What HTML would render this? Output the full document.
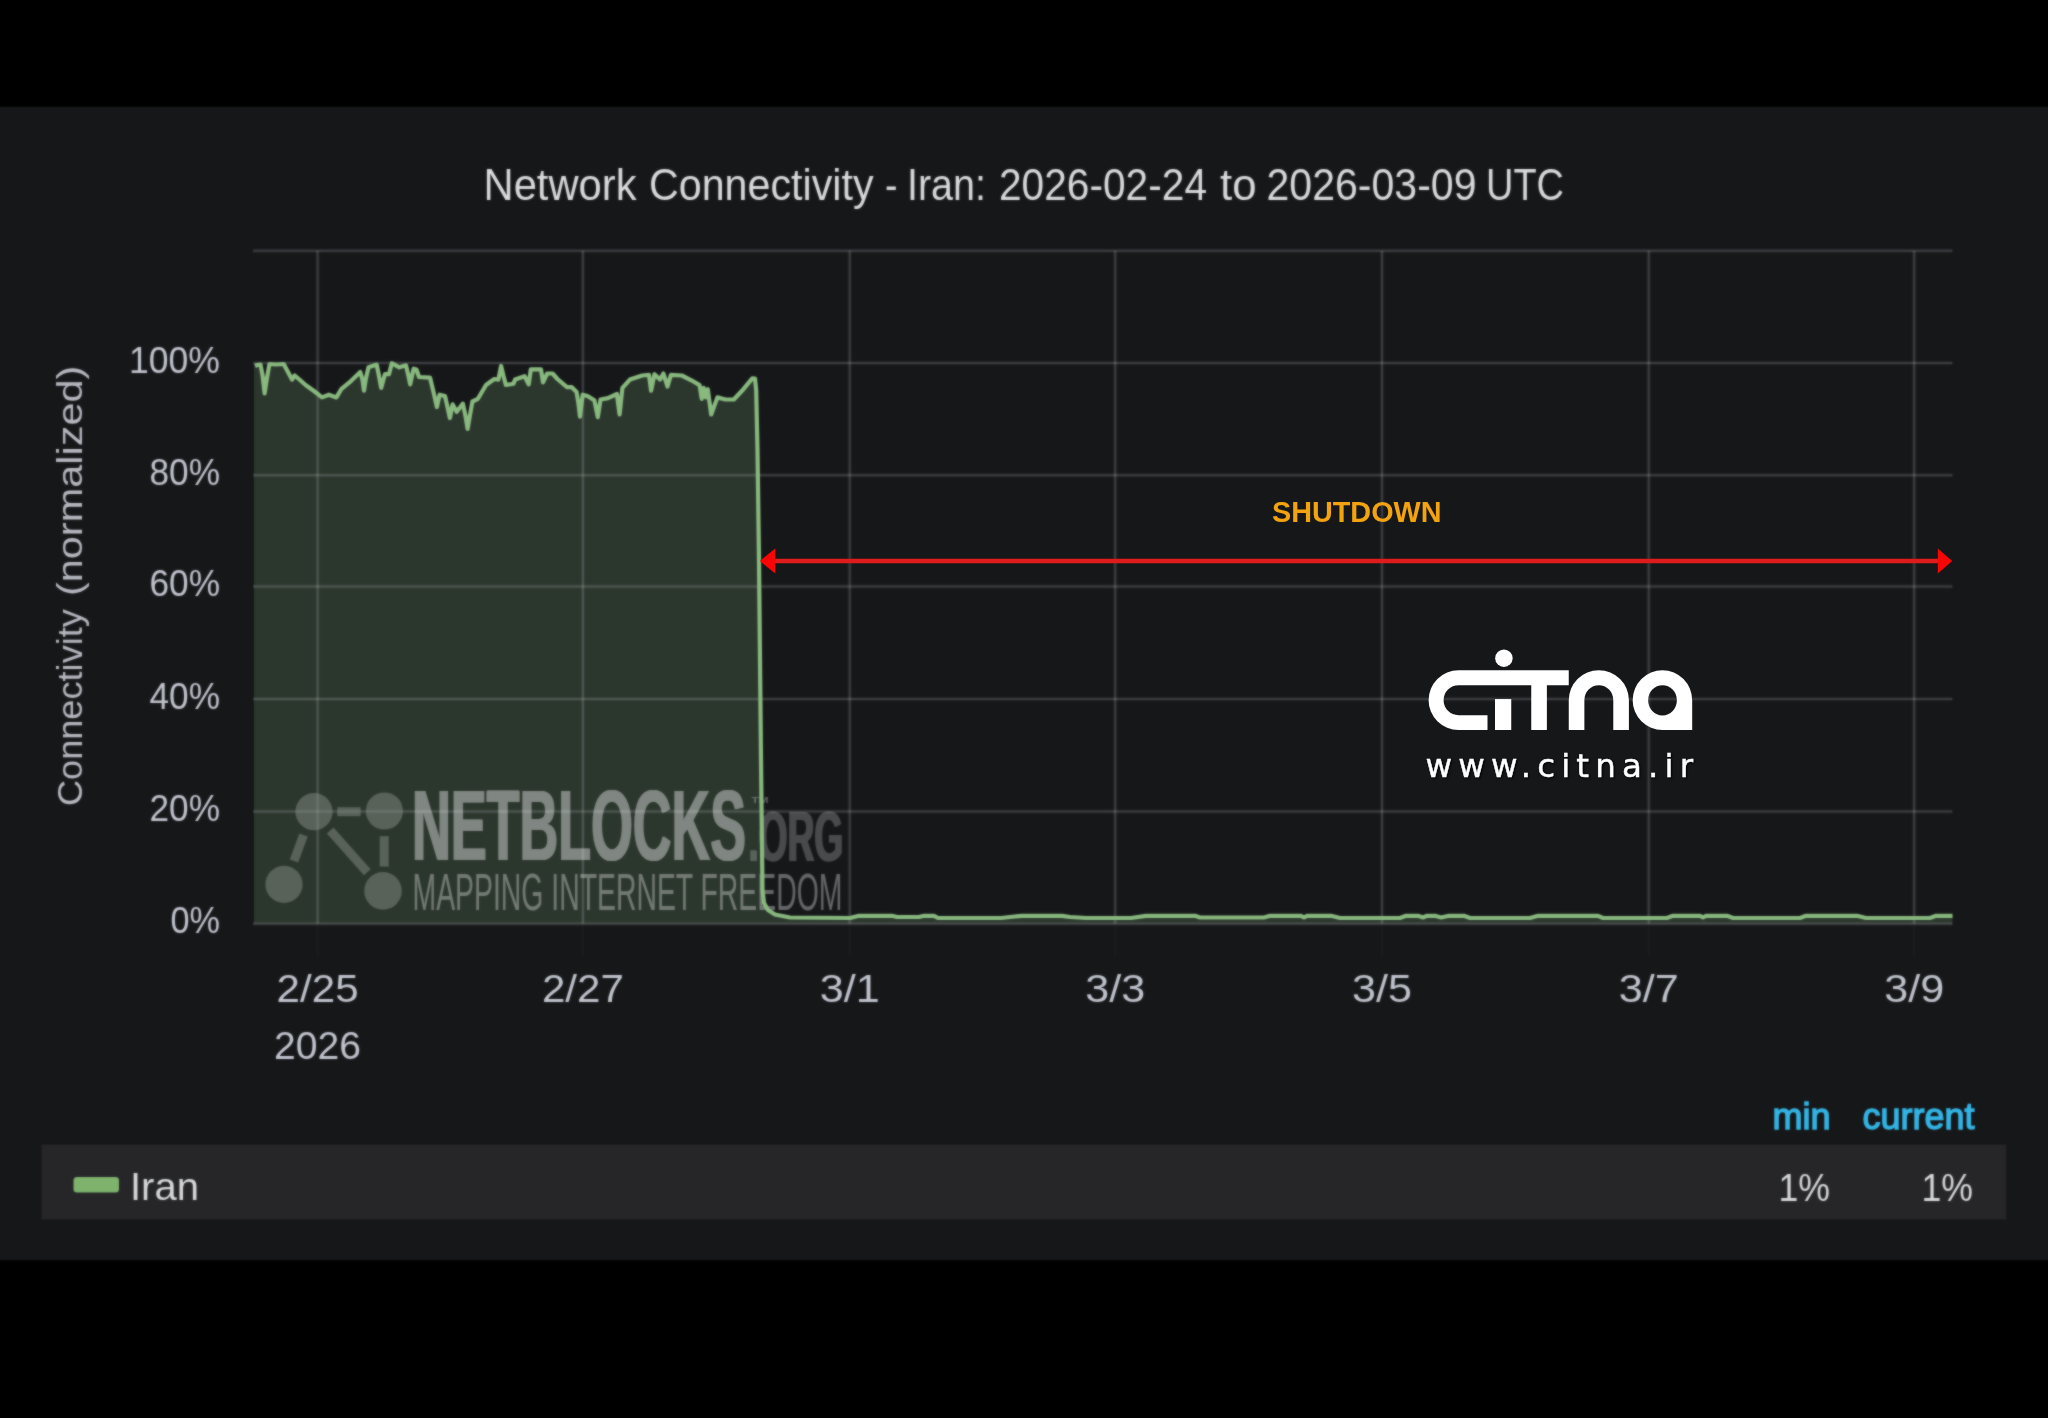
<!DOCTYPE html>
<html lang="en"><head><meta charset="utf-8"><title>Network Connectivity - Iran</title>
<style>
html,body{margin:0;padding:0;background:#000;}
body{width:2048px;height:1418px;overflow:hidden;font-family:"Liberation Sans", Arial, sans-serif;}
svg{display:block;}
</style></head><body>
<svg width="2048" height="1418" viewBox="0 0 2048 1418">
<defs><filter id="soft" x="-20" y="-20" width="2088" height="1458" filterUnits="userSpaceOnUse" color-interpolation-filters="sRGB"><feGaussianBlur in="SourceGraphic" stdDeviation="0.8" result="b"/><feComposite in="SourceGraphic" in2="b" operator="arithmetic" k1="0" k2="0.4" k3="0.6" k4="0"/></filter><filter id="soft2" x="700" y="480" width="1300" height="120" filterUnits="userSpaceOnUse" color-interpolation-filters="sRGB"><feGaussianBlur stdDeviation="0.5"/></filter><filter id="soft3" x="1380" y="620" width="360" height="190" filterUnits="userSpaceOnUse" color-interpolation-filters="sRGB"><feGaussianBlur stdDeviation="0.3"/></filter></defs>
<g filter="url(#soft)">
<rect x="-20" y="-20" width="2088" height="1458" fill="#000"/>
<rect x="-20" y="106.85" width="2088" height="1153.35" fill="#161719"/>
<!-- legend row -->
<rect x="41.7" y="1144.6" width="1964.5" height="74.8" fill="#262628"/>
<rect x="73.5" y="1177" width="45.5" height="15.5" rx="3.5" fill="#7eb26d"/>
<!-- area fill -->
<path d="M255.0,366.0 L257.0,365.0 L260.5,364.6 L262.5,375.0 L264.6,393.3 L267.0,378.0 L269.4,364.0 L276.0,364.5 L283.7,364.0 L288.0,372.0 L292.0,379.6 L294.7,375.5 L300.0,380.0 L305.6,385.0 L314.0,391.0 L322.0,397.4 L328.9,394.7 L336.4,397.4 L341.2,389.2 L349.4,382.4 L360.3,372.0 L362.5,380.0 L364.0,390.6 L366.0,378.0 L368.5,367.3 L376.7,364.6 L379.0,376.0 L381.2,387.9 L384.9,374.2 L389.0,374.2 L391.8,363.2 L399.3,367.3 L406.0,365.3 L408.0,374.0 L410.2,384.4 L412.0,376.0 L413.6,368.7 L416.5,369.5 L419.0,377.0 L430.0,377.6 L433.5,392.0 L436.9,407.0 L439.6,394.7 L445.0,396.0 L447.5,407.0 L449.9,418.0 L452.6,404.3 L456.7,411.8 L462.9,403.6 L465.5,416.0 L467.6,428.9 L470.0,415.0 L472.4,401.5 L477.9,398.8 L486.0,385.0 L494.3,379.0 L498.4,379.6 L501.1,366.0 L503.5,376.0 L505.9,385.0 L513.5,383.7 L515.0,379.6 L524.6,376.2 L528.7,384.4 L530.8,369.4 L541.0,369.4 L543.0,382.4 L547.2,373.5 L552.6,373.5 L557.4,379.0 L567.0,387.2 L571.8,387.2 L576.6,392.0 L578.5,404.0 L580.0,416.6 L582.7,394.7 L587.5,396.0 L594.3,400.2 L597.8,417.2 L600.5,399.5 L608.0,398.1 L616.9,394.0 L619.6,414.5 L622.4,387.9 L629.9,379.6 L642.2,375.5 L649.0,374.9 L651.1,390.6 L654.5,374.2 L660.0,379.6 L663.4,373.5 L667.5,386.5 L670.9,374.9 L681.8,375.5 L691.4,380.3 L699.6,385.1 L701.7,398.8 L703.7,387.9 L705.8,397.4 L707.8,389.2 L711.2,414.5 L717.4,397.4 L725.6,399.5 L733.8,399.5 L743.4,389.2 L752.3,378.3 L755.0,378.5 L756.2,390.0 L757.5,450.0 L759.0,560.0 L761.0,760.0 L762.5,890.0 L764.0,903.0 L768.0,910.0 L775.0,914.5 L790.0,917.5 L850.0,918.0 L859.0,915.8 L892.0,915.8 L897.0,917.0 L919.0,917.0 L924.0,915.8 L934.0,915.8 L938.0,918.0 L1001.0,918.0 L1010.0,917.0 L1022.0,915.8 L1062.0,915.8 L1070.0,917.0 L1086.0,918.0 L1131.0,918.0 L1146.0,915.8 L1195.0,915.8 L1200.0,917.5 L1264.0,917.5 L1270.0,915.8 L1301.0,915.8 L1304.0,917.5 L1307.0,915.8 L1331.0,915.8 L1340.0,918.0 L1400.0,918.0 L1406.0,915.8 L1418.0,915.8 L1423.0,917.5 L1427.0,915.8 L1435.0,915.8 L1441.0,917.5 L1449.0,915.8 L1464.0,915.8 L1470.0,918.0 L1530.0,918.0 L1538.0,915.8 L1598.0,915.8 L1603.0,918.0 L1667.0,918.0 L1673.0,915.8 L1700.0,915.8 L1703.0,917.3 L1706.0,915.8 L1727.0,915.8 L1733.0,918.0 L1800.0,918.0 L1806.0,915.8 L1857.0,915.8 L1866.0,918.0 L1930.0,918.0 L1936.0,915.8 L1952.5,915.8 L1952.5,923.7 L254,923.7 L254,366 Z" fill="#84b27d" fill-opacity="0.2" stroke="none"/>
<!-- grid -->
<g stroke="rgba(210,212,216,0.05)" stroke-width="4.4" fill="none">
<line x1="253" x2="1952.5" y1="250.7" y2="250.7"/>
<line x1="253" x2="1952.5" y1="363.1" y2="363.1"/>
<line x1="253" x2="1952.5" y1="475.3" y2="475.3"/>
<line x1="253" x2="1952.5" y1="586.5" y2="586.5"/>
<line x1="253" x2="1952.5" y1="699.0" y2="699.0"/>
<line x1="253" x2="1952.5" y1="811.5" y2="811.5"/>
<line x1="253" x2="1952.5" y1="923.7" y2="923.7"/>
<line x1="317.6" x2="317.6" y1="250.7" y2="923.7"/>
<line x1="582.9" x2="582.9" y1="250.7" y2="923.7"/>
<line x1="849.7" x2="849.7" y1="250.7" y2="923.7"/>
<line x1="1115.2" x2="1115.2" y1="250.7" y2="923.7"/>
<line x1="1382.0" x2="1382.0" y1="250.7" y2="923.7"/>
<line x1="1648.7" x2="1648.7" y1="250.7" y2="923.7"/>
<line x1="1914.2" x2="1914.2" y1="250.7" y2="923.7"/>
</g>
<g stroke="rgba(210,212,216,0.165)" stroke-width="2" fill="none">
<line x1="253" x2="1952.5" y1="250.7" y2="250.7"/>
<line x1="253" x2="1952.5" y1="363.1" y2="363.1"/>
<line x1="253" x2="1952.5" y1="475.3" y2="475.3"/>
<line x1="253" x2="1952.5" y1="586.5" y2="586.5"/>
<line x1="253" x2="1952.5" y1="699.0" y2="699.0"/>
<line x1="253" x2="1952.5" y1="811.5" y2="811.5"/>
<line x1="253" x2="1952.5" y1="923.7" y2="923.7"/>
<line x1="317.6" x2="317.6" y1="250.7" y2="923.7"/>
<line x1="582.9" x2="582.9" y1="250.7" y2="923.7"/>
<line x1="849.7" x2="849.7" y1="250.7" y2="923.7"/>
<line x1="1115.2" x2="1115.2" y1="250.7" y2="923.7"/>
<line x1="1382.0" x2="1382.0" y1="250.7" y2="923.7"/>
<line x1="1648.7" x2="1648.7" y1="250.7" y2="923.7"/>
<line x1="1914.2" x2="1914.2" y1="250.7" y2="923.7"/>
</g>
<g stroke="rgba(210,212,216,0.035)" stroke-width="2" fill="none">
<line x1="317.6" x2="317.6" y1="925" y2="955"/>
<line x1="582.9" x2="582.9" y1="925" y2="955"/>
<line x1="849.7" x2="849.7" y1="925" y2="955"/>
<line x1="1115.2" x2="1115.2" y1="925" y2="955"/>
<line x1="1382.0" x2="1382.0" y1="925" y2="955"/>
<line x1="1648.7" x2="1648.7" y1="925" y2="955"/>
<line x1="1914.2" x2="1914.2" y1="925" y2="955"/>
</g>

<g id="netblocks">
  <g fill="#8d968d" fill-opacity="0.46" stroke="none">
    <circle cx="314" cy="811.7" r="18.6"/><circle cx="384.4" cy="811" r="18.6"/>
    <circle cx="284" cy="884.4" r="18.6"/><circle cx="383" cy="890.9" r="18.8"/>
  </g>
  <g stroke="#8d968d" stroke-opacity="0.46" stroke-width="9" fill="none">
    <line x1="337.3" y1="811.7" x2="360.6" y2="811.7"/>
    <line x1="303.5" y1="835" x2="294" y2="861"/>
    <line x1="330.2" y1="830.6" x2="367.3" y2="872.3"/>
    <line x1="384.2" y1="836.2" x2="384.2" y2="866.6"/>
  </g>
  <g opacity="0.40" fill="#ffffff" font-weight="bold" font-family='"Liberation Sans", Arial, sans-serif' font-size="99.5">
    <g transform="translate(412.2,860.3) scale(0.5393,1)"><text x="-1.6" y="0">NETBLOCKS</text><text x="1.6" y="0">NETBLOCKS</text><text x="0" y="0">NETBLOCKS</text></g>
  </g>
  <g opacity="0.22" fill="#ffffff" font-weight="bold" font-family='"Liberation Sans", Arial, sans-serif' font-size="70">
    <g transform="translate(748.5,860.5) scale(0.5295,1)"><text x="-1.5" y="0">.ORG</text><text x="1.5" y="0">.ORG</text></g>
  </g>
  <text x="751.5" y="802.5" font-size="9" font-weight="bold" font-family='"Liberation Sans", Arial, sans-serif' fill="#ffffff" fill-opacity="0.3" textLength="17" lengthAdjust="spacingAndGlyphs">TM</text>
  <g transform="translate(412.5,909.6) scale(0.546,1)"><text x="0" y="0" font-size="52" font-family='"Liberation Sans", Arial, sans-serif' fill="#ffffff" fill-opacity="0.34">MAPPING INTERNET FREEDOM</text></g>
</g>
<!-- series line -->
<path d="M255.0,366.0 L257.0,365.0 L260.5,364.6 L262.5,375.0 L264.6,393.3 L267.0,378.0 L269.4,364.0 L276.0,364.5 L283.7,364.0 L288.0,372.0 L292.0,379.6 L294.7,375.5 L300.0,380.0 L305.6,385.0 L314.0,391.0 L322.0,397.4 L328.9,394.7 L336.4,397.4 L341.2,389.2 L349.4,382.4 L360.3,372.0 L362.5,380.0 L364.0,390.6 L366.0,378.0 L368.5,367.3 L376.7,364.6 L379.0,376.0 L381.2,387.9 L384.9,374.2 L389.0,374.2 L391.8,363.2 L399.3,367.3 L406.0,365.3 L408.0,374.0 L410.2,384.4 L412.0,376.0 L413.6,368.7 L416.5,369.5 L419.0,377.0 L430.0,377.6 L433.5,392.0 L436.9,407.0 L439.6,394.7 L445.0,396.0 L447.5,407.0 L449.9,418.0 L452.6,404.3 L456.7,411.8 L462.9,403.6 L465.5,416.0 L467.6,428.9 L470.0,415.0 L472.4,401.5 L477.9,398.8 L486.0,385.0 L494.3,379.0 L498.4,379.6 L501.1,366.0 L503.5,376.0 L505.9,385.0 L513.5,383.7 L515.0,379.6 L524.6,376.2 L528.7,384.4 L530.8,369.4 L541.0,369.4 L543.0,382.4 L547.2,373.5 L552.6,373.5 L557.4,379.0 L567.0,387.2 L571.8,387.2 L576.6,392.0 L578.5,404.0 L580.0,416.6 L582.7,394.7 L587.5,396.0 L594.3,400.2 L597.8,417.2 L600.5,399.5 L608.0,398.1 L616.9,394.0 L619.6,414.5 L622.4,387.9 L629.9,379.6 L642.2,375.5 L649.0,374.9 L651.1,390.6 L654.5,374.2 L660.0,379.6 L663.4,373.5 L667.5,386.5 L670.9,374.9 L681.8,375.5 L691.4,380.3 L699.6,385.1 L701.7,398.8 L703.7,387.9 L705.8,397.4 L707.8,389.2 L711.2,414.5 L717.4,397.4 L725.6,399.5 L733.8,399.5 L743.4,389.2 L752.3,378.3 L755.0,378.5 L756.2,390.0 L757.5,450.0 L759.0,560.0 L761.0,760.0 L762.5,890.0 L764.0,903.0 L768.0,910.0 L775.0,914.5 L790.0,917.5 L850.0,918.0 L859.0,915.8 L892.0,915.8 L897.0,917.0 L919.0,917.0 L924.0,915.8 L934.0,915.8 L938.0,918.0 L1001.0,918.0 L1010.0,917.0 L1022.0,915.8 L1062.0,915.8 L1070.0,917.0 L1086.0,918.0 L1131.0,918.0 L1146.0,915.8 L1195.0,915.8 L1200.0,917.5 L1264.0,917.5 L1270.0,915.8 L1301.0,915.8 L1304.0,917.5 L1307.0,915.8 L1331.0,915.8 L1340.0,918.0 L1400.0,918.0 L1406.0,915.8 L1418.0,915.8 L1423.0,917.5 L1427.0,915.8 L1435.0,915.8 L1441.0,917.5 L1449.0,915.8 L1464.0,915.8 L1470.0,918.0 L1530.0,918.0 L1538.0,915.8 L1598.0,915.8 L1603.0,918.0 L1667.0,918.0 L1673.0,915.8 L1700.0,915.8 L1703.0,917.3 L1706.0,915.8 L1727.0,915.8 L1733.0,918.0 L1800.0,918.0 L1806.0,915.8 L1857.0,915.8 L1866.0,918.0 L1930.0,918.0 L1936.0,915.8 L1952.5,915.8" fill="none" stroke="#89b97f" stroke-width="4.2" stroke-linejoin="round" stroke-linecap="butt"/>
<text y="199.7" font-size="43.6" fill="#dadbdc" font-family='"Liberation Sans", Arial, sans-serif' xml:space="default"><tspan x="483.5" textLength="153.0" lengthAdjust="spacingAndGlyphs">Network</tspan> <tspan x="649.0" textLength="224.5" lengthAdjust="spacingAndGlyphs">Connectivity</tspan> <tspan x="885.0" textLength="12.5" lengthAdjust="spacingAndGlyphs">-</tspan> <tspan x="907.0" textLength="79.0" lengthAdjust="spacingAndGlyphs">Iran:</tspan> <tspan x="999.0" textLength="208.0" lengthAdjust="spacingAndGlyphs">2026-02-24</tspan> <tspan x="1220.0" textLength="36.5" lengthAdjust="spacingAndGlyphs">to</tspan> <tspan x="1266.5" textLength="210.0" lengthAdjust="spacingAndGlyphs">2026-03-09</tspan> <tspan x="1486.0" textLength="78.0" lengthAdjust="spacingAndGlyphs">UTC</tspan> </text>
<text x="129.0" y="372.7" font-size="37.5" fill="#c1c5ce" text-anchor="start" font-weight="normal" font-family='"Liberation Sans", Arial, sans-serif' textLength="91.0" lengthAdjust="spacingAndGlyphs">100%</text>
<text x="149.5" y="484.9" font-size="37.5" fill="#c1c5ce" text-anchor="start" font-weight="normal" font-family='"Liberation Sans", Arial, sans-serif' textLength="70.5" lengthAdjust="spacingAndGlyphs">80%</text>
<text x="149.5" y="596.1" font-size="37.5" fill="#c1c5ce" text-anchor="start" font-weight="normal" font-family='"Liberation Sans", Arial, sans-serif' textLength="70.5" lengthAdjust="spacingAndGlyphs">60%</text>
<text x="149.5" y="708.6" font-size="37.5" fill="#c1c5ce" text-anchor="start" font-weight="normal" font-family='"Liberation Sans", Arial, sans-serif' textLength="70.5" lengthAdjust="spacingAndGlyphs">40%</text>
<text x="149.5" y="821.1" font-size="37.5" fill="#c1c5ce" text-anchor="start" font-weight="normal" font-family='"Liberation Sans", Arial, sans-serif' textLength="70.5" lengthAdjust="spacingAndGlyphs">20%</text>
<text x="170.5" y="933.3" font-size="37.5" fill="#c1c5ce" text-anchor="start" font-weight="normal" font-family='"Liberation Sans", Arial, sans-serif' textLength="49.5" lengthAdjust="spacingAndGlyphs">0%</text>
<text x="276.6" y="1001.6" font-size="38.6" fill="#c1c5ce" text-anchor="start" font-weight="normal" font-family='"Liberation Sans", Arial, sans-serif' textLength="82.0" lengthAdjust="spacingAndGlyphs">2/25</text>
<text x="541.9" y="1001.6" font-size="38.6" fill="#c1c5ce" text-anchor="start" font-weight="normal" font-family='"Liberation Sans", Arial, sans-serif' textLength="82.0" lengthAdjust="spacingAndGlyphs">2/27</text>
<text x="819.7" y="1001.6" font-size="38.6" fill="#c1c5ce" text-anchor="start" font-weight="normal" font-family='"Liberation Sans", Arial, sans-serif' textLength="60.0" lengthAdjust="spacingAndGlyphs">3/1</text>
<text x="1085.2" y="1001.6" font-size="38.6" fill="#c1c5ce" text-anchor="start" font-weight="normal" font-family='"Liberation Sans", Arial, sans-serif' textLength="60.0" lengthAdjust="spacingAndGlyphs">3/3</text>
<text x="1352.0" y="1001.6" font-size="38.6" fill="#c1c5ce" text-anchor="start" font-weight="normal" font-family='"Liberation Sans", Arial, sans-serif' textLength="60.0" lengthAdjust="spacingAndGlyphs">3/5</text>
<text x="1618.7" y="1001.6" font-size="38.6" fill="#c1c5ce" text-anchor="start" font-weight="normal" font-family='"Liberation Sans", Arial, sans-serif' textLength="60.0" lengthAdjust="spacingAndGlyphs">3/7</text>
<text x="1884.2" y="1001.6" font-size="38.6" fill="#c1c5ce" text-anchor="start" font-weight="normal" font-family='"Liberation Sans", Arial, sans-serif' textLength="60.0" lengthAdjust="spacingAndGlyphs">3/9</text>
<text x="274.1" y="1058.6" font-size="38.6" fill="#c1c5ce" text-anchor="start" font-weight="normal" font-family='"Liberation Sans", Arial, sans-serif' textLength="87.0" lengthAdjust="spacingAndGlyphs">2026</text>
<g transform="translate(81.8,804.6) rotate(-90)"><text y="0" font-size="35.2" fill="#b6b9c0" font-family='"Liberation Sans", Arial, sans-serif'><tspan x="-1.5" textLength="197" lengthAdjust="spacingAndGlyphs">Connectivity</tspan> <tspan x="208.5" textLength="230.5" lengthAdjust="spacingAndGlyphs">(normalized)</tspan></text></g>
<text x="130.0" y="1200.0" font-size="38.5" fill="#d8d9da" text-anchor="start" font-weight="normal" font-family='"Liberation Sans", Arial, sans-serif' textLength="69.0" lengthAdjust="spacingAndGlyphs">Iran</text>
<text x="1772.5" y="1128.7" font-size="37" fill="#33b5e5" text-anchor="start" font-weight="normal" font-family='"Liberation Sans", Arial, sans-serif' textLength="58.0" lengthAdjust="spacingAndGlyphs" stroke="#33b5e5" stroke-width="1.4">min</text>
<text x="1862.5" y="1128.7" font-size="37" fill="#33b5e5" text-anchor="start" font-weight="normal" font-family='"Liberation Sans", Arial, sans-serif' textLength="112.0" lengthAdjust="spacingAndGlyphs" stroke="#33b5e5" stroke-width="1.4">current</text>
<text x="1778.5" y="1201.0" font-size="38.5" fill="#d8d9da" text-anchor="start" font-weight="normal" font-family='"Liberation Sans", Arial, sans-serif' textLength="51.5" lengthAdjust="spacingAndGlyphs">1%</text>
<text x="1921.5" y="1201.0" font-size="38.5" fill="#d8d9da" text-anchor="start" font-weight="normal" font-family='"Liberation Sans", Arial, sans-serif' textLength="51.5" lengthAdjust="spacingAndGlyphs">1%</text>
</g>
<!-- overlays (added on top of the chart image: sharper) -->
<g filter="url(#soft2)">
<line x1="772" x2="1940" y1="561" y2="561" stroke="#e01b1b" stroke-width="4.7"/>
<path d="M759.8,561 L775.2,548.6 L775.2,573.4 Z" fill="#fa0505"/>
<path d="M1952.2,561 L1937.8,548.6 L1937.8,573.4 Z" fill="#fa0505"/>
<text x="1272.0" y="522.0" font-size="30.3" fill="#f2a30f" text-anchor="start" font-weight="bold" font-family='"Liberation Sans", Arial, sans-serif' textLength="169.5" lengthAdjust="spacingAndGlyphs">SHUTDOWN</text>
</g>
<g filter="url(#soft3)">

<g id="citna" transform="translate(1400,630) scale(0.15625)" fill="#ffffff">
  <circle cx="665" cy="180" r="56"/>
  <path d="M1080,258 H375 A192,191 0 0 0 375,640 H560 V545 H375 A96,96 0 0 1 375,353 H1080 Z"/>
  <rect x="608" y="442" width="104" height="198"/>
  <rect x="840" y="300" width="100" height="340"/>
  <path d="M1080,640 V450 A192.5,192 0 0 1 1465,450 V640 H1365 V450 A92.5,97 0 0 0 1180,450 V640 Z"/>
  <path fill-rule="evenodd" d="M1680,258 A190,192 0 0 1 1870,450 V640 H1680 A190,190 0 0 1 1680,258 Z M1680,353 A92,97 0 0 0 1680,547 A92,97 0 0 0 1680,353 Z"/>
</g>
<text x="1425.5" y="777" font-size="32.5" fill="#ffffff" font-family='"DejaVu Sans", "Liberation Sans", sans-serif' textLength="267.5" lengthAdjust="spacing" stroke="#ffffff" stroke-width="0.45" style="filter:drop-shadow(1.5px 1.5px 1px rgba(0,0,0,0.9))">www.citna.ir</text>

</g>
</svg>
</body></html>
